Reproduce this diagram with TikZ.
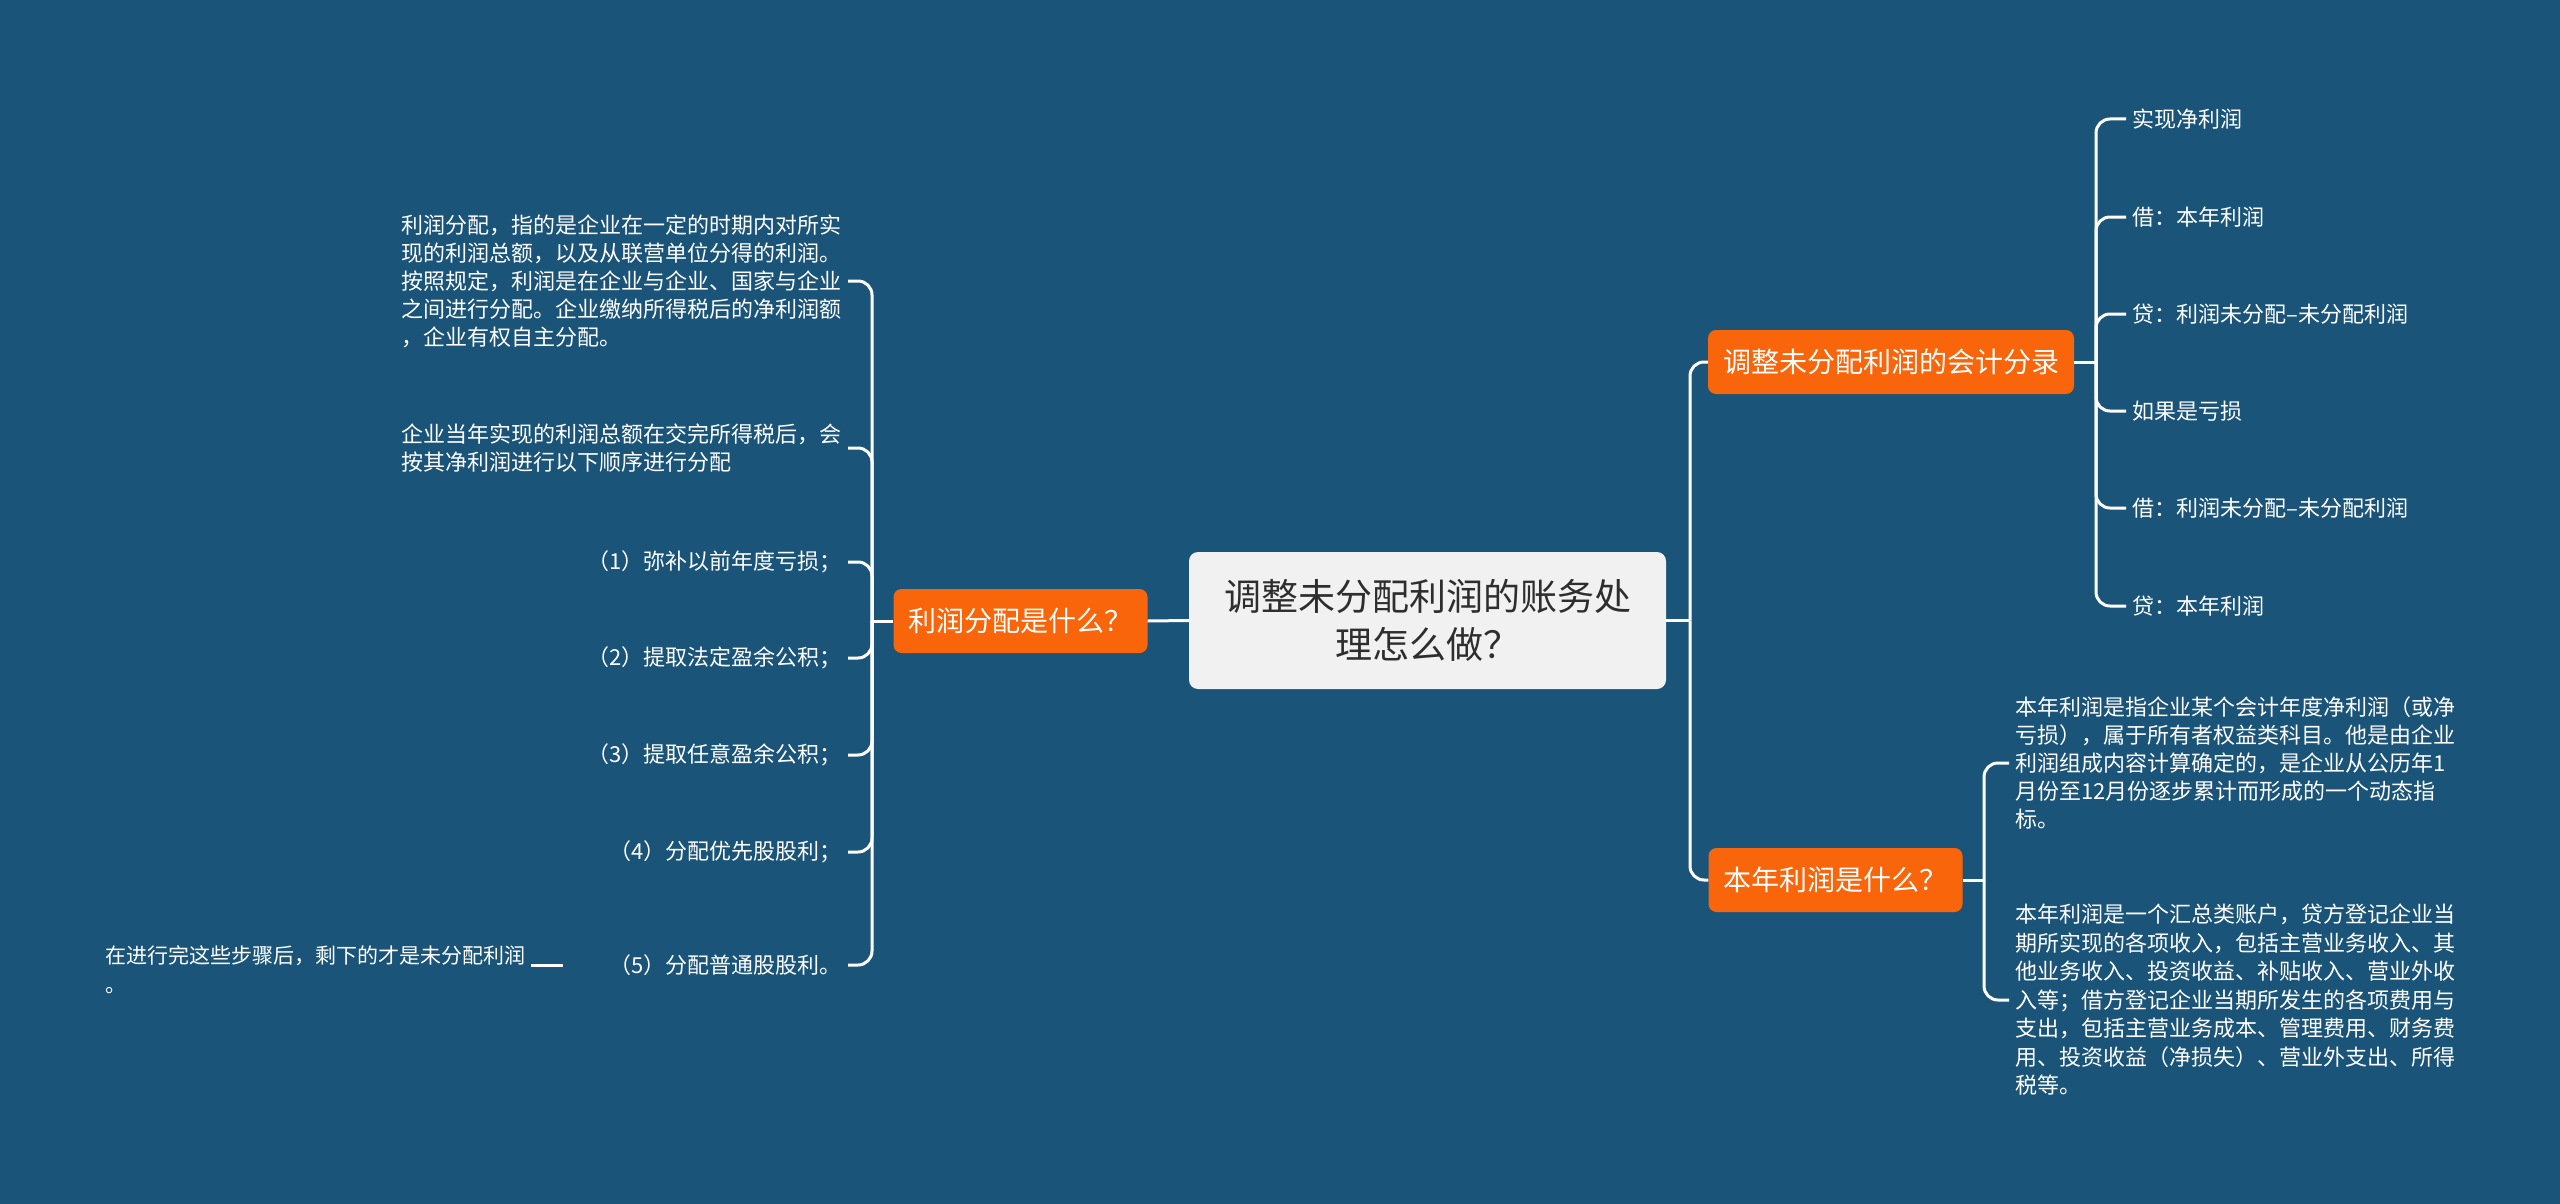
\documentclass[tikz,border=0pt]{standalone}
\usepackage{fontspec}
\setmainfont{Noto Sans CJK SC}
\definecolor{bg}{HTML}{1B5479}
\definecolor{orng}{HTML}{F9650A}
\definecolor{ctr}{HTML}{F1F1F1}
\definecolor{ctrtxt}{HTML}{2E2E2E}
\begin{document}
\begin{tikzpicture}[x=1pt,y=-1pt,
  leaf/.style={text=white, font=\fontsize{22}{28}\selectfont, inner xsep=6, inner ysep=4},
  branch/.style={fill=orng, text=white, rounded corners=8, font=\fontsize{28}{34}\selectfont, inner xsep=15, minimum height=64},
  central/.style={fill=ctr, text=ctrtxt, rounded corners=9, font=\fontsize{37}{48}\selectfont, align=center, minimum width=477, minimum height=137},
  conn/.style={draw=white, line width=3, rounded corners=14}]
\fill[bg] (0,0) rectangle (2560,1204);
\useasboundingbox (0,0) rectangle (2560,1204);

% central and branches
\node[central] (c) at (1427.5,620.5) {调整未分配利润的账务处\\理怎么做？};
\node[branch] (lp) at (1020.5,621) {利润分配是什么？};
\node[branch] (r1) at (1891,362) {调整未分配利润的会计分录};
\node[branch] (r2) at (1835.5,880) {本年利润是什么？};

\coordinate (ls) at (872,621);
\coordinate (cs) at (1690,620.5);
\coordinate (rs1) at (2096,362);
\coordinate (rs2) at (1984,880);

% left leaves
\node[leaf, anchor=east, align=left] (p1) at (848,281) {利润分配，指的是企业在一定的时期内对所实\\现的利润总额，以及从联营单位分得的利润。\\按照规定，利润是在企业与企业、国家与企业\\之间进行分配。企业缴纳所得税后的净利润额\\，企业有权自主分配。};
\node[leaf, anchor=east, align=left] (p2) at (848,448) {企业当年实现的利润总额在交完所得税后，会\\按其净利润进行以下顺序进行分配};
\node[leaf, anchor=east] (c1) at (848,562) {（1）弥补以前年度亏损；};
\node[leaf, anchor=east] (c2) at (848,658) {（2）提取法定盈余公积；};
\node[leaf, anchor=east] (c3) at (848,755) {（3）提取任意盈余公积；};
\node[leaf, anchor=east] (c4) at (848,852) {（4）分配优先股股利；};
\node[leaf, anchor=east, text width=273, align=right] (c5) at (848,965) {（5）分配普通股股利。};
\node[leaf, anchor=west, align=left, font=\fontsize{21}{29}\selectfont] (pf) at (99,970) {在进行完这些步骤后，剩下的才是未分配利润\\。};

% right top leaves
\node[leaf, anchor=west] (a1) at (2126,119) {实现净利润};
\node[leaf, anchor=west] (a2) at (2126,217) {借：本年利润};
\node[leaf, anchor=west] (a3) at (2126,314) {贷：利润未分配–未分配利润};
\node[leaf, anchor=west] (a4) at (2126,411) {如果是亏损};
\node[leaf, anchor=west] (a5) at (2126,508) {借：利润未分配–未分配利润};
\node[leaf, anchor=west] (a6) at (2126,606) {贷：本年利润};

% right bottom leaves
\node[leaf, anchor=west, align=left] (q1) at (2009,763) {本年利润是指企业某个会计年度净利润（或净\\亏损），属于所有者权益类科目。他是由企业\\利润组成内容计算确定的，是企业从公历年1\\月份至12月份逐步累计而形成的一个动态指\\标。};
\node[leaf, anchor=west, align=left, font=\fontsize{22}{28.5}\selectfont] (q2) at (2009,1000) {本年利润是一个汇总类账户，贷方登记企业当\\期所实现的各项收入，包括主营业务收入、其\\他业务收入、投资收益、补贴收入、营业外收\\入等；借方登记企业当期所发生的各项费用与\\支出，包括主营业务成本、管理费用、财务费\\用、投资收益（净损失）、营业外支出、所得\\税等。};

% connectors
\draw[conn] (c.west) -- (lp.east);
\draw[conn] (lp.west) -- (ls);
\foreach \n in {p1,p2,c1,c2,c3,c4,c5} \draw[conn] (ls) |- (\n.east);
\draw[conn] (c5.west) -- (c5.west -| pf.east);

\draw[conn] (c.east) -- (cs);
\draw[conn] (cs) |- (r1.west);
\draw[conn] (cs) |- (r2.west);

\draw[conn] (r1.east) -- (rs1);
\foreach \n in {a1,a2,a3,a4,a5,a6} \draw[conn] (rs1) |- (\n.west);

\draw[conn] (r2.east) -- (rs2);
\foreach \n in {q1,q2} \draw[conn] (rs2) |- (\n.west);
\end{tikzpicture}
\end{document}
